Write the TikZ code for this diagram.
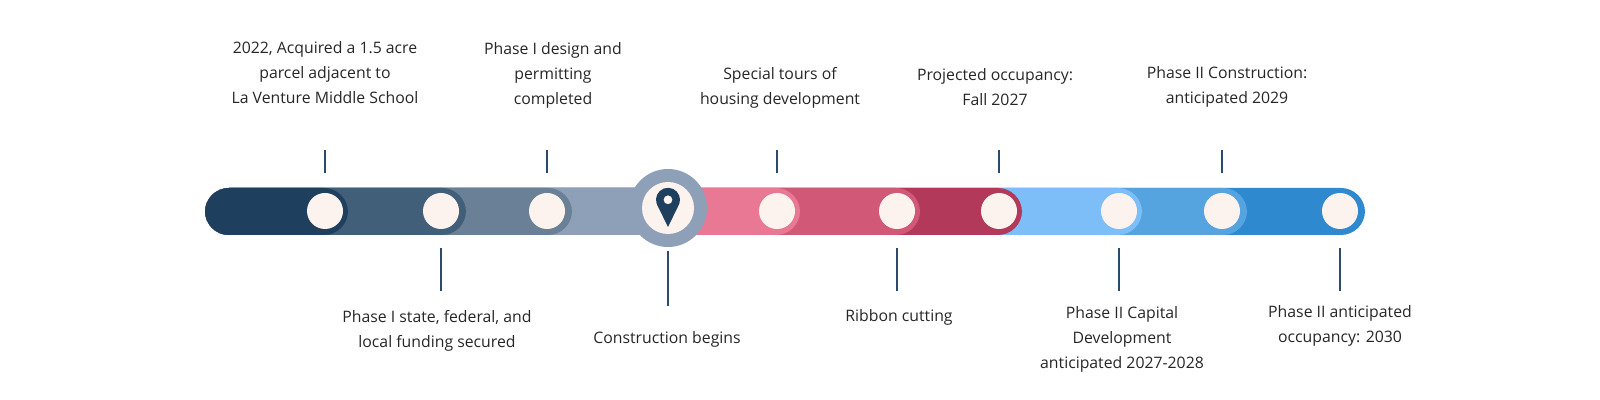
\documentclass[tikz,border=0pt]{standalone}
\usepackage{fontspec}
\setmainfont{Open Sans}
\usetikzlibrary{positioning}
\definecolor{navyA}{HTML}{1F3F5E}
\definecolor{navyB}{HTML}{425F7A}
\definecolor{navyC}{HTML}{6A8096}
\definecolor{navyD}{HTML}{8EA0B8}
\definecolor{roseA}{HTML}{E87893}
\definecolor{roseB}{HTML}{D25877}
\definecolor{roseC}{HTML}{B3395A}
\definecolor{skyA}{HTML}{7DBDF8}
\definecolor{skyB}{HTML}{55A4E0}
\definecolor{skyC}{HTML}{2E89CF}
\definecolor{cream}{HTML}{FDF3EE}
\definecolor{tickcol}{HTML}{2C4A6B}
\tikzset{
    x=0.5pt, y=-0.5pt,
    dot/.style={circle, fill=cream, minimum size=18pt, inner sep=0pt}, % milestone dots
    tick/.style={draw=tickcol, line width=1.2pt},
    caption/.style={align=center, font=\fontsize{7.9}{12.5}\selectfont, text=black!85}
}
\begin{document}
\begin{tikzpicture}
    \useasboundingbox (0,0) rectangle (1600,400);
    % bar segments, widest first
    \foreach \col/\xe in {skyC/1365, skyB/1247, skyA/1142, roseC/1022, roseB/920, roseA/800, navyD/680, navyC/572, navyB/466, navyA/348}
        \fill[\col, rounded corners=12pt] (205,188) rectangle (\xe,235);
    % pin marker
    \node[circle, fill=navyD, minimum size=39pt, inner sep=0pt] (pin) at (668,208) {};
    \node[circle, fill=cream, minimum size=26pt, inner sep=0pt] at (pin) {};
    \fill[navyA, even odd rule] (668,227) -- (656.7,203.9) arc (160:380:12) -- cycle
        (668,199.8) circle (4.5);
    % dots
    \foreach \n/\x in {a/325, b/441, c/547, d/777, e/897, f/999, g/1119, h/1222, i/1340}
        \node[dot] (\n) at (\x,211) {};
    % ticks above
    \foreach \n in {a, c, d, f, h}
        \draw[tick] (\n) ++(0,-38) -- ++(0,-23);
    % ticks below
    \foreach \n in {b, e, g, i}
        \draw[tick] (\n) ++(0,37) -- ++(0,43);
    \draw[tick] (pin) ++(0,43) -- ++(0,55);
    % captions
    \node[caption] (la) at (325,73) {2022, Acquired a 1.5 acre\\parcel adjacent to\\La Venture Middle School};
    \node[caption] (lc) at (553,75) {Phase I design and\\permitting\\completed};
    \node[caption] (ld) at (780,88) {Special tours of\\housing development};
    \node[caption] (lf) at (995,87) {Projected occupancy:\\Fall 2027};
    \node[caption] (lh) at (1227,87) {Phase II Construction:\\anticipated 2029};
    \node[caption] (lb) at (437,331) {Phase I state, federal, and\\local funding secured};
    \node[caption] (lp) at (667,339) {Construction begins};
    \node[caption] (le) at (899,317) {Ribbon cutting};
    \node[caption] (lg) at (1122,339) {Phase II Capital\\Development\\anticipated 2027-2028};
    \node[caption] (li) at (1340,326) {Phase II anticipated\\occupancy: 2030};
\end{tikzpicture}
\end{document}
